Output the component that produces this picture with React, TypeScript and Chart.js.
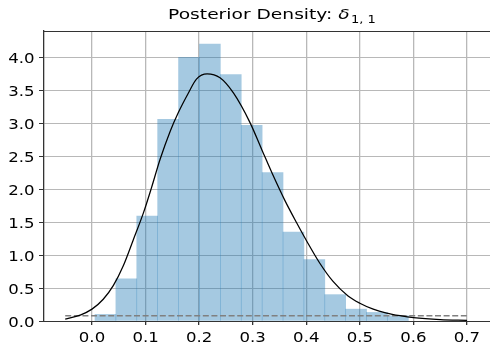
import React, { useEffect, useRef } from "react";
import { Chart, registerables } from "chart.js";

Chart.register(...registerables);

// Histogram (posterior samples), bin centres and densities
const binCenters = [0.0251, 0.0641, 0.1031, 0.1421, 0.1811, 0.2201, 0.2591, 0.2981, 0.3371, 0.3761, 0.4151, 0.4541, 0.4931, 0.5321, 0.5711];
const binHeights = [0.10, 0.64, 1.59, 3.06, 4.00, 4.20, 3.74, 2.97, 2.25, 1.35, 0.93, 0.40, 0.18, 0.13, 0.08];

// Density curve
const curveX = [-0.050, -0.022, 0.000, 0.021, 0.040, 0.058, 0.077, 0.096, 0.111, 0.127, 0.146, 0.161, 0.180, 0.195, 0.215, 0.239, 0.264, 0.295, 0.317, 0.338, 0.360, 0.382, 0.401, 0.425, 0.450, 0.478, 0.500, 0.525, 0.550, 0.575, 0.600, 0.650, 0.700];
const curveY = [0.03, 0.09, 0.18, 0.33, 0.54, 0.83, 1.23, 1.64, 2.02, 2.45, 2.88, 3.16, 3.46, 3.67, 3.75, 3.69, 3.46, 3.01, 2.60, 2.21, 1.83, 1.49, 1.21, 0.88, 0.60, 0.38, 0.27, 0.18, 0.12, 0.08, 0.05, 0.02, 0.01];

// Prior (flat dashed line)
const priorX = [-0.05, 0.7];
const priorY = [0.08, 0.08];

const xTicks = [0.0, 0.1, 0.2, 0.3, 0.4, 0.5, 0.6, 0.7];
const yTicks = [0.0, 0.5, 1.0, 1.5, 2.0, 2.5, 3.0, 3.5, 4.0];

const titleMain = "Posterior Density: ";
const titleSymbol = "δ";
const titleSub = "1, 1";

const FONT = "'DejaVu Sans', sans-serif";
const TICK_SX = 1.2; // horizontal stretch of the reference tick text
const TITLE_SX = 1.27; // horizontal stretch of the reference title

const frameAndText = {
  id: "frameAndText",
  afterDraw(chart: any) {
    const ctx = chart.ctx;
    const { left, right, top } = chart.chartArea;
    ctx.save();
    // top spine
    ctx.strokeStyle = "#333";
    ctx.lineWidth = 1;
    ctx.beginPath();
    ctx.moveTo(left, top + 0.5);
    ctx.lineTo(right, top + 0.5);
    ctx.stroke();

    ctx.fillStyle = "#000";
    ctx.textBaseline = "alphabetic";

    // tick labels
    ctx.font = `13.8px ${FONT}`;
    const xs = chart.scales.x;
    const ys = chart.scales.y;
    ctx.textAlign = "center";
    xTicks.forEach((v) => {
      const px = xs.getPixelForValue(v);
      ctx.save();
      ctx.translate(px, 342);
      ctx.scale(TICK_SX, 1);
      ctx.fillText(v.toFixed(1), 0, 0);
      ctx.restore();
    });
    ctx.textAlign = "right";
    yTicks.forEach((v) => {
      const py = ys.getPixelForValue(v);
      ctx.save();
      ctx.translate(34.5, py + 5.6);
      ctx.scale(TICK_SX, 1);
      ctx.fillText(v.toFixed(1), 0, 0);
      ctx.restore();
    });

    // title
    const mainFont = `14.7px ${FONT}`;
    const symFont = `italic 14.7px ${FONT}`;
    const subFont = `10.3px ${FONT}`;
    ctx.textAlign = "left";
    ctx.font = mainFont;
    const w1 = ctx.measureText(titleMain).width;
    ctx.font = symFont;
    const w2 = ctx.measureText(titleSymbol).width;
    ctx.font = subFont;
    const w3 = ctx.measureText(titleSub).width;
    const total = (w1 + w2 + 1 + w3) * TITLE_SX;
    ctx.save();
    ctx.translate(272 - total / 2, 19.3);
    ctx.scale(TITLE_SX, 1);
    let x = 0;
    ctx.font = mainFont;
    ctx.fillText(titleMain, x, 0);
    x += w1;
    ctx.font = symFont;
    ctx.fillText(titleSymbol, x, 0);
    x += w2 + 1;
    ctx.font = subFont;
    ctx.fillText(titleSub, x, 3.2);
    ctx.restore();
    ctx.restore();
  },
};

export default function App() {
  const ref = useRef<HTMLCanvasElement | null>(null);

  useEffect(() => {
    document.body.style.margin = "0";
    document.body.style.overflow = "hidden";
    const canvas = ref.current;
    if (!canvas) return;

    const chart = new Chart(canvas, {
      type: "bar",
      data: {
        datasets: [
          {
            type: "line",
            data: curveX.map((x, i) => ({ x, y: curveY[i] })),
            borderColor: "#000",
            borderWidth: 1.25,
            pointRadius: 0,
            cubicInterpolationMode: "monotone",
            fill: false,
            order: 1,
          } as any,
          {
            type: "line",
            data: priorX.map((x, i) => ({ x, y: priorY[i] })),
            borderColor: "#808080",
            borderWidth: 1.6,
            borderDash: [6, 2.6],
            pointRadius: 0,
            fill: false,
            order: 2,
          } as any,
          {
            type: "bar",
            data: binCenters.map((x, i) => ({ x, y: binHeights[i] })),
            backgroundColor: "rgba(31,119,180,0.4)",
            borderWidth: 0,
            barPercentage: 1.0,
            categoryPercentage: 1.0,
            order: 3,
          } as any,
        ],
      },
      options: {
        animation: false,
        responsive: false,
        events: [],
        layout: { padding: { top: 31, left: 0, right: 0, bottom: 0 } },
        plugins: {
          legend: { display: false },
          title: { display: false },
          tooltip: { enabled: false },
        },
        scales: {
          x: {
            type: "linear",
            offset: false,
            min: -0.0896,
            max: 0.743,
            afterBuildTicks: (axis: any) => {
              axis.ticks = xTicks.map((v) => ({ value: v }));
            },
            afterFit: (axis: any) => {
              axis.height = 24;
            },
            ticks: { display: false },
            grid: {
              offset: false,
              color: "#b8b8b8",
              lineWidth: 1.3,
              tickColor: "#333",
              tickLength: 4,
            },
            border: { color: "#333", width: 1 },
          },
          y: {
            type: "linear",
            min: 0,
            max: 4.4,
            afterBuildTicks: (axis: any) => {
              axis.ticks = yTicks.map((v) => ({ value: v }));
            },
            afterFit: (axis: any) => {
              axis.width = 44;
            },
            ticks: { display: false },
            grid: {
              color: "#b8b8b8",
              lineWidth: 1,
              tickColor: "#333",
              tickLength: 5,
            },
            border: { color: "#333", width: 1.3 },
          },
        },
      },
      plugins: [frameAndText],
    });

    return () => chart.destroy();
  }, []);

  return (
    <div style={{ width: 490, height: 345 }}>
      <canvas ref={ref} width={490} height={345} style={{ display: "block" }} />
    </div>
  );
}
